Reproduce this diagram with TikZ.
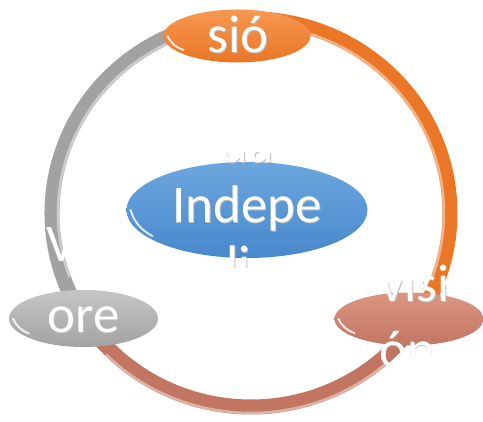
\documentclass[tikz,border=0pt]{standalone}
\usepackage{fontspec}
\setmainfont{Carlito}
\usetikzlibrary{shapes.geometric, positioning, calc}
\definecolor{accOrange}{RGB}{234,118,38}
\definecolor{accOrangeL}{RGB}{247,152,82}
\definecolor{accBlue}{RGB}{72,136,204}
\definecolor{accBlueL}{RGB}{108,166,222}
\definecolor{accGray}{RGB}{162,162,162}
\definecolor{accGrayL}{RGB}{198,198,198}
\definecolor{accSalmon}{RGB}{194,118,98}
\definecolor{accSalmonL}{RGB}{218,150,130}
\tikzset{
  bubble/.style={ellipse, inner sep=0pt, minimum width=149pt, minimum height=55pt}, % Define the node style
  gloss/.style={path picture={\draw[white, opacity=.8, line width=2pt, line cap=round]
      ([xshift=4pt]path picture bounding box.west) to[bend right=22] ([shift={(#1)}]path picture bounding box.west);}},
  word/.style={text=white, font=\fontsize{53}{60}\selectfont, inner sep=0pt},
  shade/.style={text=gray!50, font=\fontsize{53}{60}\selectfont, inner sep=0pt, xshift=.8pt, yshift=-.8pt},
  tube/.style={line width=15pt, draw=#1},
  shine/.style={line width=2.5pt, draw=white, opacity=.45}
}
% all the texts, once as shadow and once in white
\newcommand\ringwords[2]{%
  \node[#1, anchor=base] (#2sio) at ([shift={(1,-17)}]mission.center) {sió};
  \node[#1, anchor=base] (#2da) at ([shift={(0,47)}]core.center) {da};
  \node[#1, anchor=base] (#2indepe) at ([shift={(0,-13)}]core.center) {Indepe};
  \node[#1, anchor=base] (#2li) at ([shift={(-8,-73)}]core.center) {li};
  \node[#1, anchor=base west] (#2v) at ([shift={(-37.5,56.5)}]values.center) {V};
  \node[#1, anchor=base] (#2ore) at ([shift={(0,-14.5)}]values.center) {ore};
  \node[#1, anchor=base] (#2visi) at ([shift={(6,17)}]vision.center) {visi};
  \node[#1, anchor=base] (#2on) at ([shift={(-2,-49)}]vision.center) {ón};
}

\begin{document}
\begin{tikzpicture}[x=1pt, y=1pt]
    \clip (0,0) rectangle (483,422);

    % Ring
    \coordinate (hub) at (251,209);
    \draw[tube=accGray] (hub) ++(213:199 and 194) arc[start angle=213, end angle=94, x radius=199, y radius=194];
    \draw[tube=accOrange] (hub) ++(94:199 and 194) arc[start angle=94, end angle=-34, x radius=199, y radius=194];
    \draw[tube=accSalmon] (hub) ++(-34:199 and 194) arc[start angle=-34, end angle=-147, x radius=199, y radius=194];
    \draw[shine] (hub) ++(200:193 and 188) arc[start angle=200, end angle=110, x radius=193, y radius=188];
    \draw[shine] (hub) ++(80:193 and 188) arc[start angle=80, end angle=-20, x radius=193, y radius=188];
    \draw[shine] (hub) ++(-48:205 and 200) arc[start angle=-48, end angle=-135, x radius=205, y radius=200];

    % Nodes
    \node[bubble, minimum width=147pt, minimum height=53pt, top color=accOrangeL, bottom color=accOrange, gloss={20pt,-14pt}] (mission) at (237,386) {};
    \node[bubble, minimum width=241pt, minimum height=96pt, top color=accBlueL, bottom color=accBlue, gloss={26pt,-26pt}] (core) at (247,212) {};
    \node[bubble, minimum height=57pt, top color=accGrayL, bottom color=accGray, gloss={20pt,-15pt}] (values) at (83.5,103.5) {};
    \node[bubble, minimum height=53pt, top color=accSalmonL, bottom color=accSalmon, gloss={20pt,-14pt}] (vision) at (409,103) {};

    % Texts
    \begin{scope}
      \clip (mission.center) ellipse (84pt and 37pt) (core.center) ellipse (131pt and 58pt)
            (values.center) ellipse (85pt and 39pt) (vision.center) ellipse (85pt and 38pt);
      \ringwords{shade}{s}
    \end{scope}
    \ringwords{word}{w}

\end{tikzpicture}
\end{document}
